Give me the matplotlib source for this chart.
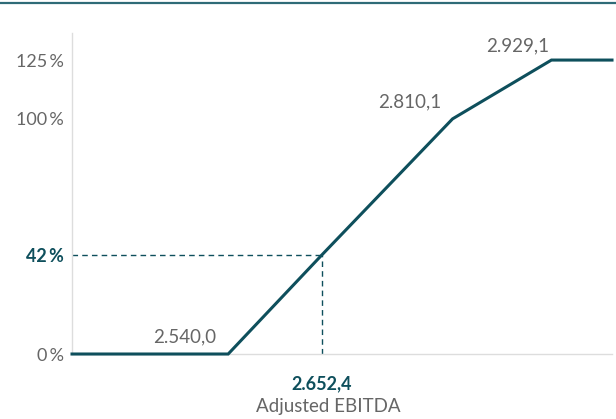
import matplotlib.pyplot as plt
from matplotlib.lines import Line2D

# payout curve: adjusted EBITDA vs payout %
ebitda = [2352, 2540.0, 2652.4, 2810.1, 2929.1, 3002]
payout = [0, 0, 42, 100, 125, 125]
point_labels = ["2.540,0", "2.810,1", "2.929,1"]
actual_x = 2652.4
actual_y = 42
yticks = [0, 42, 100, 125]
ytick_labels = ["0\u2009%", "42\u2009%", "100\u2009%", "125\u2009%"]

teal = "#0e4f5c"
grey = "#666666"
plt.rcParams['font.family'] = ['Lato', 'DejaVu Sans']

fig = plt.figure(figsize=(6.16, 4.19), dpi=100)
ax = fig.add_axes([0.1169, 0.1551, 0.8766, 0.7661])

ax.plot(ebitda, payout, color=teal, lw=2.2, solid_joinstyle='miter', clip_on=False, zorder=3)
ax.plot([ebitda[0], actual_x], [actual_y, actual_y], color=teal, lw=1, ls=(0, (4, 3)))
ax.plot([actual_x, actual_x], [0, actual_y], color=teal, lw=1, ls=(0, (4, 3)))

ax.set_xlim(ebitda[0], ebitda[-1])
ax.set_ylim(0, 136.5)
ax.set_xticks([])
ax.set_yticks(yticks)
ax.set_yticklabels(ytick_labels, fontsize=13, color=grey)
ax.tick_params(axis='y', length=0, pad=6)
lab = ax.get_yticklabels()[1]
lab.set_color(teal)
lab.set_fontweight('bold')

for s in ['top', 'right']:
    ax.spines[s].set_visible(False)
for s in ['left', 'bottom']:
    ax.spines[s].set_color('#dddddd')
    ax.spines[s].set_linewidth(1)

ax.annotate(point_labels[0], (ebitda[1], 0), xytext=(-31, 6), textcoords='offset points',
            ha='center', va='bottom', fontsize=13.5, color=grey)
ax.annotate(point_labels[1], (ebitda[3], 100), xytext=(-8, 6), textcoords='offset points',
            ha='right', va='bottom', fontsize=13.5, color=grey)
ax.annotate(point_labels[2], (ebitda[4], 125), xytext=(-24, 4), textcoords='offset points',
            ha='center', va='bottom', fontsize=13.5, color=grey)

ax.annotate("2.652,4", (actual_x, 0), xytext=(0, -15), textcoords='offset points',
            ha='center', va='top', fontsize=13, color=teal, fontweight='bold')
ax.annotate("Adjusted EBITDA", (actual_x, 0), xytext=(5, -32), textcoords='offset points',
            ha='center', va='top', fontsize=13.5, color=grey)

fig.add_artist(Line2D([0, 1], [0.993, 0.993], color="#2f6b77", lw=1.6, transform=fig.transFigure))

fig.savefig("out.png", dpi=100)
